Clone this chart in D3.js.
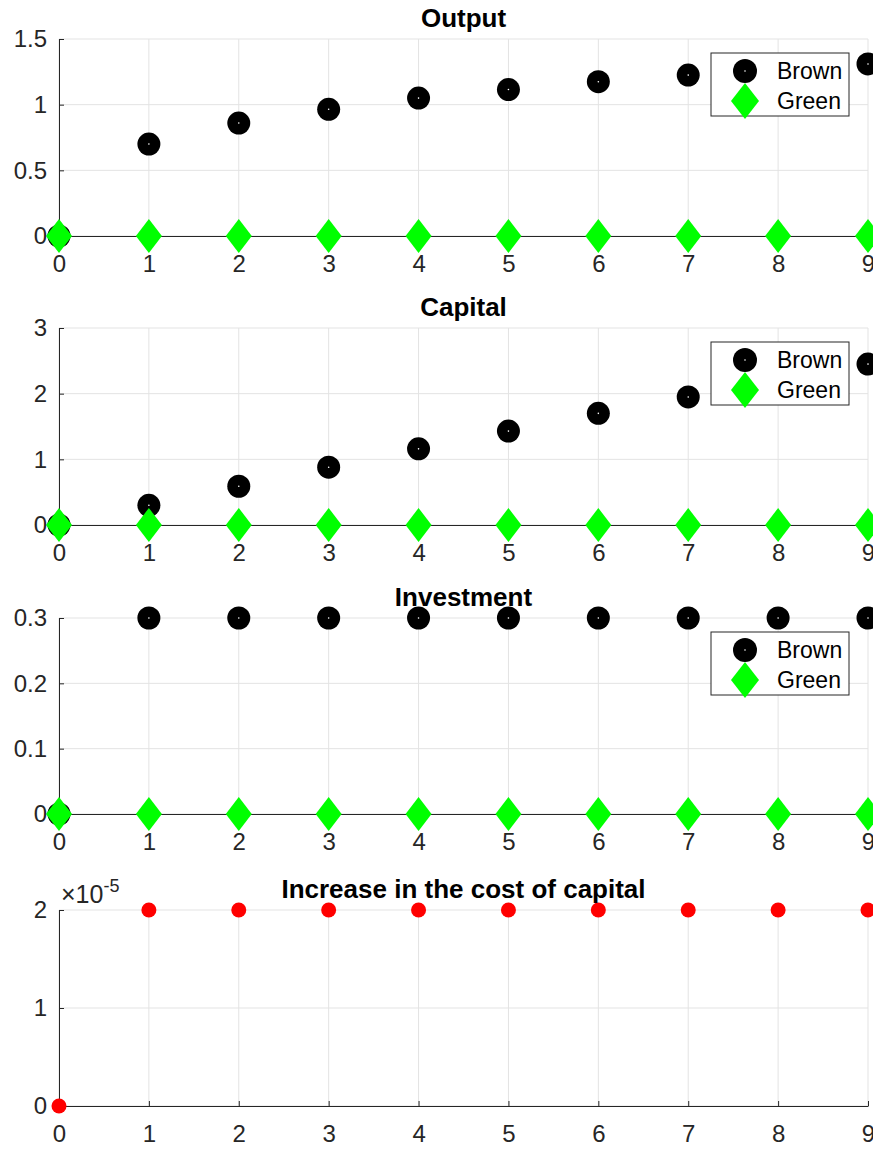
<!DOCTYPE html>
<html>
<head>
<meta charset="utf-8">
<script src="https://cdn.jsdelivr.net/npm/d3@7"></script>
<style>
  html, body { margin: 0; padding: 0; background: #fff; }
  svg { display: block; font-family: "Liberation Sans", Arial, Helvetica, sans-serif; }
</style>
</head>
<body>
<svg id="chart" width="873" height="1151"></svg>
<script>
// Periods shown on every panel
const periods = [0, 1, 2, 3, 4, 5, 6, 7, 8, 9];

// Output
const outputBrown = [0, 0.70, 0.86, 0.965, 1.05, 1.115, 1.175, 1.225, 1.27, 1.31];
const outputGreen = [0, 0, 0, 0, 0, 0, 0, 0, 0, 0];
// Capital
const capitalBrown = [0, 0.30, 0.59, 0.88, 1.16, 1.43, 1.70, 1.95, 2.20, 2.45];
const capitalGreen = [0, 0, 0, 0, 0, 0, 0, 0, 0, 0];
// Investment
const investBrown = [0, 0.3, 0.3, 0.3, 0.3, 0.3, 0.3, 0.3, 0.3, 0.3];
const investGreen = [0, 0, 0, 0, 0, 0, 0, 0, 0, 0];
// Increase in the cost of capital (units of 1e-5)
const costIncrease = [0, 2, 2, 2, 2, 2, 2, 2, 2, 2];

// Tick labels
const xTicks = [0, 1, 2, 3, 4, 5, 6, 7, 8, 9];
const outputTicks = [0, 0.5, 1, 1.5];
const capitalTicks = [0, 1, 2, 3];
const investTicks = [0, 0.1, 0.2, 0.3];
const costTicks = [0, 1, 2];

const seriesNames = ["Brown", "Green"];

const panels = [
  { title: "Output", top: 39, bottom: 236, domain: [0, 1.5], ticks: outputTicks,
    series: [outputBrown, outputGreen], legend: true },
  { title: "Capital", top: 328, bottom: 525, domain: [0, 3], ticks: capitalTicks,
    series: [capitalBrown, capitalGreen], legend: true },
  { title: "Investment", top: 618, bottom: 814, domain: [0, 0.3], ticks: investTicks,
    series: [investBrown, investGreen], legend: true },
  { title: "Increase in the cost of capital", top: 910, bottom: 1106, domain: [0, 2], ticks: costTicks,
    series: [costIncrease], legend: false, exponent: true }
];

const svg = d3.select("#chart");
const left = 59, right = 868;
const x = d3.scaleLinear().domain([0, 9]).range([left, right]);

const axisColor = "#262626";
const gridColor = "#e3e3e3";
const fontSize = 24;
const font = "Liberation Sans, Arial, sans-serif";

// Diamond path with width w and height h centred at origin
function diamond(w, h) {
  return `M0,${-h/2}L${w/2},0L0,${h/2}L${-w/2},0Z`;
}

panels.forEach(p => {
  const y = d3.scaleLinear().domain(p.domain).range([p.bottom, p.top]);
  const g = svg.append("g");

  // grid lines
  g.selectAll(".vgrid").data(xTicks).join("line")
    .attr("x1", d => x(d)).attr("x2", d => x(d))
    .attr("y1", p.top).attr("y2", p.bottom)
    .attr("stroke", gridColor).attr("stroke-width", 1);
  g.selectAll(".hgrid").data(p.ticks).join("line")
    .attr("x1", left).attr("x2", right)
    .attr("y1", d => y(d)).attr("y2", d => y(d))
    .attr("stroke", gridColor).attr("stroke-width", 1);

  // x axis
  const xAxis = d3.axisBottom(x).tickValues(xTicks).tickSizeInner(-5).tickSizeOuter(0).tickPadding(19);
  const xg = g.append("g").attr("transform", `translate(0,${p.bottom})`).call(xAxis);
  xg.select(".domain").attr("stroke", axisColor);
  xg.selectAll(".tick line").attr("stroke", axisColor);
  xg.selectAll(".tick text").attr("fill", axisColor).attr("font-size", fontSize)
    .attr("font-family", font);

  // y axis
  const yAxis = d3.axisLeft(y).tickValues(p.ticks).tickFormat(d => d).tickSizeInner(-5).tickSizeOuter(0).tickPadding(12);
  const yg = g.append("g").attr("transform", `translate(${left},0)`).call(yAxis);
  yg.select(".domain").attr("stroke", axisColor);
  yg.selectAll(".tick line").attr("stroke", axisColor);
  yg.selectAll(".tick text").attr("fill", axisColor).attr("font-size", fontSize)
    .attr("font-family", font);

  // markers
  if (p.series.length === 2) {
    const [brown, green] = p.series;
    g.selectAll(".brown").data(periods).join("g")
      .attr("transform", (d, i) => `translate(${x(d)},${y(brown[i])})`)
      .each(function () {
        d3.select(this).append("circle").attr("r", 11.5).attr("fill", "#000");
        d3.select(this).append("circle").attr("r", 0.8).attr("fill", "#fff");
      });
    g.selectAll(".green").data(periods).join("path")
      .attr("transform", (d, i) => `translate(${x(d)},${y(green[i])})`)
      .attr("d", diamond(26, 34))
      .attr("fill", "#00ff00");
  } else {
    const vals = p.series[0];
    g.selectAll(".red").data(periods).join("circle")
      .attr("cx", d => x(d)).attr("cy", (d, i) => y(vals[i]))
      .attr("r", 7.5).attr("fill", "#ff0000");
  }

  // title
  g.append("text")
    .attr("x", (left + right) / 2).attr("y", p.top - 12)
    .attr("text-anchor", "middle")
    .attr("font-weight", "bold").attr("font-size", 26)
    .attr("fill", "#000")
    .text(p.title);

  // exponent label
  if (p.exponent) {
    const t = g.append("text").attr("x", left + 2).attr("y", p.top - 7)
      .attr("font-size", 25).attr("fill", axisColor);
    t.append("tspan").text("\u00d710");
    t.append("tspan").attr("font-size", 18).attr("dy", -11).text("-5");
  }

  // legend
  if (p.legend) {
    const lx = 711, ly = p.top + 14, lw = 138, lh = 63;
    const lg = g.append("g");
    lg.append("rect").attr("x", lx).attr("y", ly).attr("width", lw).attr("height", lh)
      .attr("fill", "#fff").attr("stroke", axisColor).attr("stroke-width", 1);
    const mx = 745;
    const rows = [ly + 18, ly + 48];
    lg.append("circle").attr("cx", mx).attr("cy", rows[0]).attr("r", 12).attr("fill", "#000");
    lg.append("circle").attr("cx", mx).attr("cy", rows[0]).attr("r", 0.8).attr("fill", "#fff");
    lg.append("path").attr("transform", `translate(${mx},${rows[1]})`)
      .attr("d", diamond(28, 36)).attr("fill", "#00ff00");
    seriesNames.forEach((name, i) => {
      lg.append("text").attr("x", 777).attr("y", rows[i]).attr("dy", "0.35em")
        .attr("font-size", 23).attr("fill", "#000").text(name);
    });
  }
});
</script>
</body>
</html>
